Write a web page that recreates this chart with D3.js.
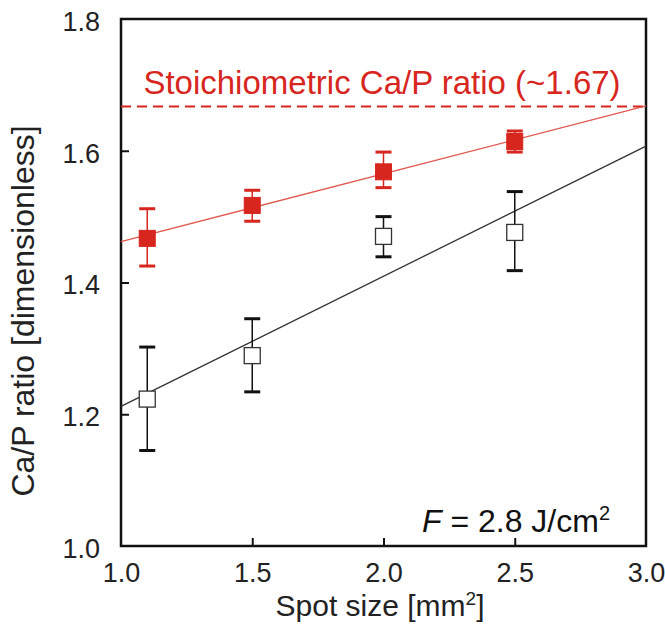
<!DOCTYPE html>
<html>
<head>
<meta charset="utf-8">
<script src="https://cdn.jsdelivr.net/npm/d3@7"></script>
<style>
  html, body { margin: 0; padding: 0; background: #fff; }
  svg text { font-family: "Liberation Sans", Arial, Helvetica, sans-serif; }
</style>
</head>
<body>
<svg id="chart" width="665" height="631"></svg>
<script>
// ---- data ----
const spotSizes = [1.1, 1.5, 2.0, 2.5];
const filledMean = [1.467, 1.517, 1.568, 1.614];
const filledErrLow = [1.425, 1.493, 1.544, 1.598];
const filledErrHigh = [1.512, 1.540, 1.598, 1.630];
const openMean = [1.223, 1.289, 1.470, 1.476];
const openErrLow = [1.145, 1.234, 1.439, 1.418];
const openErrHigh = [1.302, 1.345, 1.500, 1.538];
const filledFit = [[1.0, 1.462], [3.0, 1.668]];
const openFit = [[1.0, 1.212], [3.0, 1.607]];
const stoichValue = 1.667;
const xTicks = [1.0, 1.5, 2.0, 2.5, 3.0];
const yTicks = [1.0, 1.2, 1.4, 1.6, 1.8];

const svg = d3.select("#chart");
const pLeft = 121, pRight = 646, pTop = 19, pBottom = 546;
const x = d3.scaleLinear().domain([1.0, 3.0]).range([pLeft, pRight]);
const y = d3.scaleLinear().domain([1.0, 1.8]).range([pBottom, pTop]);
const RED = "#d7261e";

// axes with inward ticks
const xAxis = d3.axisBottom(x).tickValues(xTicks).tickFormat(d3.format(".1f")).tickSizeInner(-8).tickSizeOuter(0).tickPadding(17);
const yAxis = d3.axisLeft(y).tickValues(yTicks).tickFormat(d3.format(".1f")).tickSizeInner(-8).tickSizeOuter(0).tickPadding(21);

const gx = svg.append("g").attr("transform", `translate(0,${pBottom})`).call(xAxis);
const gy = svg.append("g").attr("transform", `translate(${pLeft},0)`).call(yAxis);
[gx, gy].forEach(g => {
  g.select(".domain").remove();
  g.selectAll(".tick line").attr("stroke", "#111").attr("stroke-width", 2);
  g.selectAll(".tick text").attr("font-size", 27).attr("fill", "#222");
});
gx.selectAll(".tick text").attr("dy", "0.71em");
gy.selectAll(".tick text").attr("dy", "0.42em");
gy.selectAll(".tick").filter(d => d === 1.0 || d === 1.8).select("line").remove();
gx.selectAll(".tick").filter(d => d === 1.0 || d === 3.0).select("line").remove();

// frame
svg.append("rect").attr("x", pLeft).attr("y", pTop).attr("width", pRight - pLeft).attr("height", pBottom - pTop)
  .attr("fill", "none").attr("stroke", "#111").attr("stroke-width", 2.5);

// stoichiometric line
svg.append("line").attr("x1", x(1.0)).attr("x2", x(3.0)).attr("y1", y(stoichValue)).attr("y2", y(stoichValue))
  .attr("stroke", RED).attr("stroke-width", 2).attr("stroke-dasharray", "10,6");
svg.append("text").attr("x", 382).attr("y", y(stoichValue) - 13).attr("text-anchor", "middle")
  .attr("font-size", 33).attr("fill", RED).text("Stoichiometric Ca/P ratio (~1.67)");

// fit lines
const line = d3.line().x(d => x(d[0])).y(d => y(d[1]));
svg.append("path").datum(filledFit).attr("d", line).attr("stroke", "#e0584f").attr("stroke-width", 1.3).attr("fill", "none");
svg.append("path").datum(openFit).attr("d", line).attr("stroke", "#333").attr("stroke-width", 1.3).attr("fill", "none");

// error bars
function errBars(lo, hi, color) {
  const g = svg.append("g");
  spotSizes.forEach((s, i) => {
    g.append("line").attr("x1", x(s)).attr("x2", x(s)).attr("y1", y(lo[i])).attr("y2", y(hi[i]))
      .attr("stroke", color).attr("stroke-width", 1.5);
    [lo[i], hi[i]].forEach(v => {
      g.append("line").attr("x1", x(s) - 8).attr("x2", x(s) + 8).attr("y1", y(v)).attr("y2", y(v))
        .attr("stroke", color).attr("stroke-width", 3);
    });
  });
}
errBars(openErrLow, openErrHigh, "#111");
errBars(filledErrLow, filledErrHigh, RED);

// markers
const sz = 16;
svg.append("g").selectAll("rect").data(spotSizes).join("rect")
  .attr("x", d => x(d) - sz / 2).attr("y", (d, i) => y(openMean[i]) - sz / 2)
  .attr("width", sz).attr("height", sz).attr("fill", "#fff").attr("stroke", "#333").attr("stroke-width", 1.3);
svg.append("g").selectAll("rect").data(spotSizes).join("rect")
  .attr("x", d => x(d) - sz / 2).attr("y", (d, i) => y(filledMean[i]) - sz / 2)
  .attr("width", sz).attr("height", sz).attr("fill", RED).attr("stroke", RED).attr("stroke-width", 1);

// annotation
const ann = svg.append("text").attr("x", 610).attr("y", 532).attr("text-anchor", "end").attr("font-size", 32).attr("fill", "#111");
ann.append("tspan").attr("font-style", "italic").text("F");
ann.append("tspan").text(" = 2.8 J/cm");
ann.append("tspan").attr("font-size", 20).attr("dy", -12).text("2");

// axis titles
const xt = svg.append("text").attr("x", 380).attr("y", 616).attr("text-anchor", "middle").attr("font-size", 30).attr("fill", "#222");
xt.append("tspan").text("Spot size [mm");
xt.append("tspan").attr("font-size", 19).attr("dy", -11).text("2");
xt.append("tspan").attr("dy", 11).text("]");

svg.append("text").attr("transform", `translate(34,311) rotate(-90)`).attr("text-anchor", "middle")
  .attr("font-size", 32).attr("fill", "#222").text("Ca/P ratio [dimensionless]");
</script>
</body>
</html>
